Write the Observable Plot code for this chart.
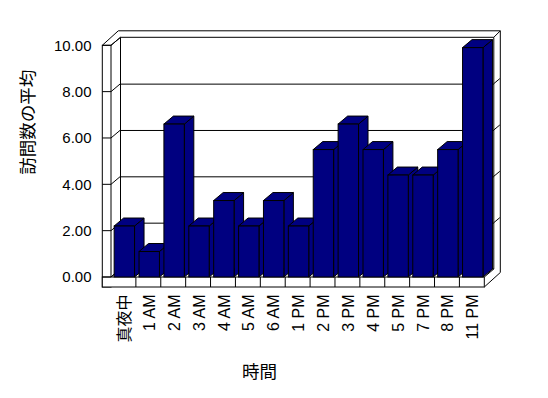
<!DOCTYPE html>
<html>
<head>
<meta charset="utf-8">
<script src="https://cdn.jsdelivr.net/npm/d3@7"></script>
<script src="https://cdn.jsdelivr.net/npm/@observablehq/plot@0.6"></script>
<style>
  html, body { margin: 0; padding: 0; background: #fff; }
  #chart svg { display: block; }
  #chart [aria-label^="x-axis"] text { font-size: 16px; }
</style>
</head>
<body>
<div id="chart"></div>
<script>
// ---- data ----
const categories = ["真夜中", "1 AM", "2 AM", "3 AM", "4 AM", "5 AM", "6 AM", "1 PM", "2 PM", "3 PM", "4 PM", "5 PM", "7 PM", "8 PM", "11 PM"];
const visits = [2.2, 1.1, 6.6, 2.2, 3.3, 2.2, 3.3, 2.2, 5.5, 6.6, 5.5, 4.4, 4.4, 5.5, 9.9];
const yTicks = [0, 2, 4, 6, 8, 10];
const yTitle = "訪問数の平均";
const xTitle = "時間";

const data = categories.map((c, i) => ({hour: c, value: visits[i]}));

// ---- 3D styling constants ----
const DX = 9.5, DY = -8;       // depth offset of back wall
const OX = 16, OY = -14.5;     // outer shell offset
const SLAB = 8.7, FLOOR = 10;  // wall / floor thickness
const BAR = "#000080";

function line(g, pts) {
  g.append("path")
    .attr("d", "M" + pts.map(p => p.join(",")).join("L"))
    .attr("fill", "none").attr("stroke", "#000").attr("stroke-width", 1);
}

// walls, floor and left-wall ticks
function shell(index, scales, values, dims) {
  const g = d3.create("svg:g");
  const L = dims.marginLeft, R = dims.width - dims.marginRight;
  const T = dims.marginTop, B = dims.height - dims.marginBottom;
  const y = scales.y;
  // outer shell
  line(g, [[L - SLAB, T], [L - SLAB + OX, T + OY], [R + OX, T + OY], [R + OX, B + FLOOR + OY], [R, B + FLOOR]]);
  // back wall
  line(g, [[L + DX, B + DY], [L + DX, T + DY], [R + DX, T + DY], [R + DX, B + DY], [L + DX, B + DY]]);
  line(g, [[R + DX, T + DY], [R + OX, T + OY]]);
  // left slab front face
  g.append("rect").attr("x", L - SLAB).attr("y", T).attr("width", SLAB).attr("height", B + FLOOR - T)
    .attr("fill", "#fff").attr("stroke", "#000");
  line(g, [[L, T], [L + DX, T + DY]]);
  line(g, [[L, B], [L + DX, B + DY]]);
  // floor front face
  g.append("rect").attr("x", L - SLAB).attr("y", B).attr("width", R - L + SLAB).attr("height", FLOOR)
    .attr("fill", "#fff").attr("stroke", "#000");
  line(g, [[R, B], [R + DX, B + DY]]);
  // y ticks on the left wall + right-wall stubs
  for (const v of yTicks) {
    const yy = y(v);
    line(g, [[L - SLAB, yy], [L, yy], [L + DX, yy + DY]]);
    if (v > 0 && v < 10) line(g, [[R + DX, yy + DY], [R + DX + 6, yy + DY - 5]]);
  }
  // floor category separators
  const step = scales.x.step();
  for (let k = 1; k < categories.length; k++) {
    const xx = L + k * step;
    line(g, [[xx, B], [xx, B + FLOOR]]);
  }
  return g.node();
}

// side and top faces of the bars
function faces(index, scales, values, dims) {
  const g = d3.create("svg:g");
  const x = scales.x, y = scales.y, bw = x.bandwidth();
  for (const d of data) {
    const x0 = x(d.hour), x1 = x0 + bw, yt = y(d.value), yb = y(0);
    g.append("path")
      .attr("d", `M${x1},${yt}L${x1 + DX},${yt + DY}L${x1 + DX},${yb + DY}L${x1},${yb}Z`)
      .attr("fill", BAR).attr("stroke", "#000");
    g.append("path")
      .attr("d", `M${x0},${yt}L${x0 + DX},${yt + DY}L${x1 + DX},${yt + DY}L${x1},${yt}Z`)
      .attr("fill", BAR).attr("stroke", "#000");
  }
  return g.node();
}

const chart = Plot.plot({
  width: 548,
  height: 398,
  marginLeft: 111,
  marginRight: 63.7,
  marginTop: 45.3,
  marginBottom: 121,
  style: {fontFamily: "'Liberation Sans', 'Noto Sans CJK JP', sans-serif", fontSize: "15px", background: "#fff", color: "#000"},
  x: {domain: categories, paddingInner: 0.18, paddingOuter: 0.09, align: 0.7, round: false,
      tickRotate: -90, tickSize: 0, tickPadding: 17, label: null},
  y: {domain: [0, 10], ticks: yTicks, tickFormat: d => d.toFixed(2), tickSize: 0, tickPadding: 20, label: null},
  marks: [
    shell,
    Plot.ruleY(yTicks.filter(v => v > 0 && v < 10), {dx: DX, dy: DY, stroke: "#000", strokeOpacity: 1}),
    faces,
    Plot.barY(data, {x: "hour", y: "value", fill: BAR, stroke: "#000", inset: 0}),
    Plot.text([yTitle], {frameAnchor: "left", dx: -83.5, dy: 13, rotate: -90, fontSize: 17.5, fill: "#000"}),
    Plot.text([xTitle], {frameAnchor: "bottom", dx: -38.7, dy: 100, fontSize: 17.5, fill: "#000"})
  ]
});
document.getElementById("chart").appendChild(chart);
</script>
</body>
</html>
